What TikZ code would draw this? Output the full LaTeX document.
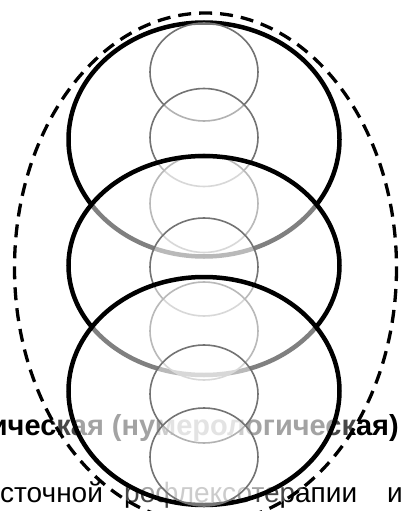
\documentclass[tikz,border=0pt]{standalone}
\usepackage{fontspec}
\setmainfont{Liberation Sans}
\begin{document}
\begin{tikzpicture}[x=1pt,y=-1pt,
  bigell/.style={draw=black,line width=4.5pt,fill=white,fill opacity=0.5,draw opacity=1},
  smallc/.style={draw=black!55,line width=1.6pt,fill=white,fill opacity=0.45,draw opacity=1},
  dashell/.style={draw=black,line width=3.3pt,dash pattern=on 13pt off 8pt,fill=white,fill opacity=0.28,draw opacity=1},
  txt/.style={inner sep=0pt,text=black}]
\useasboundingbox (0,0) rectangle (403,511);
% background text
\node[txt,anchor=base east,font=\fontsize{29}{33}\selectfont\bfseries] (t1) at (399,435) {ическая (нумерологическая)};
\node[txt,anchor=base west,font=\fontsize{28}{31}\selectfont] (t2a) at (0,502) {сточной};
\node[txt,anchor=base west,font=\fontsize{28}{31}\selectfont] (t2b) at (124,502) {рефлексотерапии};
\node[txt,anchor=base west,font=\fontsize{28}{31}\selectfont] (t2c) at (387,502) {и};
% dashed outer ellipse
\path[dashell] (205.5,268) ellipse [x radius=191, y radius=255];
% first big ellipse and its circles
\path[bigell] (204,139.5) ellipse [x radius=135.5, y radius=117];
\path[smallc] (204,72) ellipse [x radius=54, y radius=49];
\path[smallc] (204,137.5) ellipse [x radius=54, y radius=49];
\path[smallc] (204,203.5) ellipse [x radius=54, y radius=49];
% second big ellipse
\path[bigell] (204,265.5) ellipse [x radius=135.5, y radius=109.5];
\path[smallc] (204,267) ellipse [x radius=54, y radius=49];
\path[smallc] (204,331) ellipse [x radius=54, y radius=49];
% third big ellipse
\path[bigell] (204,391) ellipse [x radius=135.5, y radius=114];
\path[smallc] (204,394) ellipse [x radius=54, y radius=49];
\path[smallc] (204,457) ellipse [x radius=54, y radius=49];
\end{tikzpicture}
\end{document}
